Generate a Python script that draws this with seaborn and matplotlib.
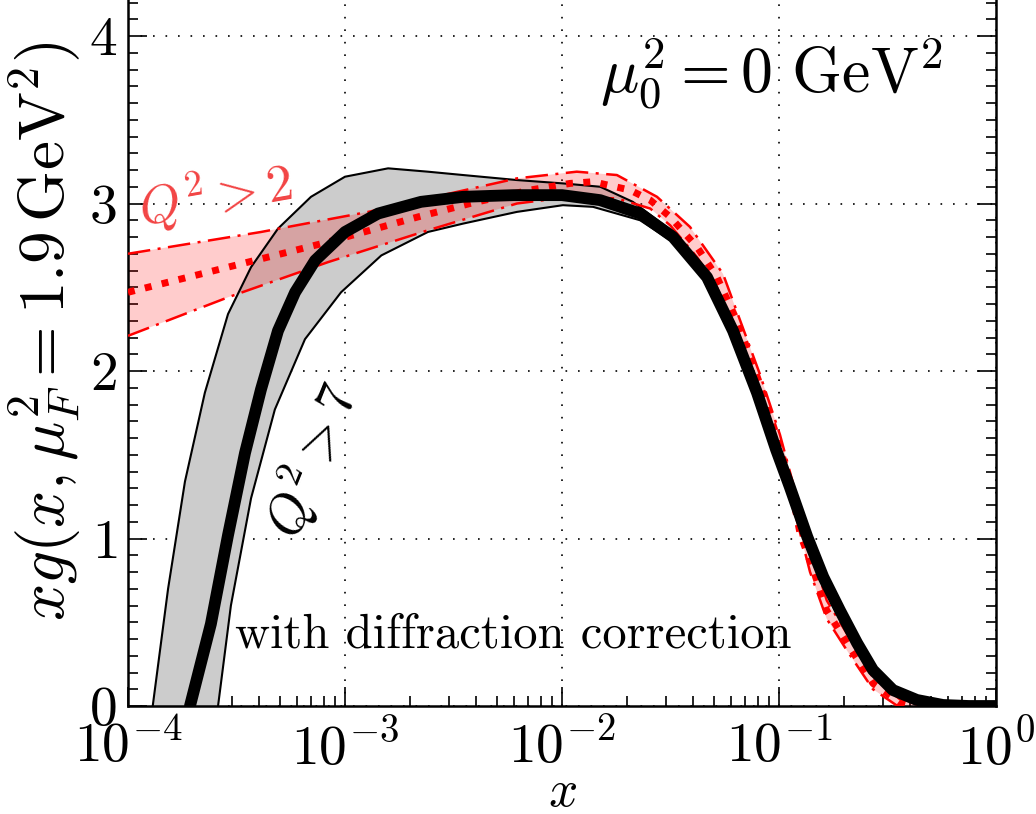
import numpy as np
import seaborn as sns
import matplotlib.pyplot as plt
from matplotlib.ticker import NullFormatter, LogLocator, MultipleLocator

# black band (Q^2 > 7): central value and edges
blk_x = [1.93e-4, 2.41e-4, 2.89e-4, 3.46e-4, 4.10e-4, 4.91e-4, 5.89e-4, 7.28e-4, 1.0e-3, 1.42e-3,
         2.24e-3, 3.5e-3, 6.0e-3, 1.0e-2, 1.5e-2, 2.29e-2, 3.25e-2, 4.66e-2, 6.14e-2, 7.92e-2,
         0.097, 0.112, 0.135, 0.160, 0.191, 0.229, 0.271, 0.335, 0.432, 0.570, 0.75, 1.0]
blk_y = [0.0, 0.49, 1.02, 1.51, 1.89, 2.24, 2.47, 2.66, 2.83, 2.94,
         3.01, 3.04, 3.05, 3.05, 3.02, 2.94, 2.80, 2.56, 2.24, 1.87,
         1.53, 1.31, 1.01, 0.77, 0.57, 0.376, 0.215, 0.095, 0.036, 0.006, 0.0, 0.0]
blk_up_x = [1.30e-4, 1.53e-4, 1.83e-4, 2.26e-4, 2.89e-4, 3.69e-4, 4.91e-4, 6.97e-4, 1.0e-3, 1.58e-3,
            2.41e-3, 3.5e-3, 6.2e-3, 1.01e-2, 1.5e-2, 2.12e-2, 3.25e-2, 4.66e-2, 6.14e-2, 7.92e-2,
            0.097, 0.112, 0.135, 0.160, 0.191, 0.229, 0.271, 0.335, 0.432, 0.570, 0.75, 1.0]
blk_up_y = [0.0, 0.70, 1.34, 1.87, 2.34, 2.62, 2.85, 3.04, 3.16, 3.21,
            3.19, 3.17, 3.14, 3.12, 3.10, 3.01, 2.83, 2.59, 2.27, 1.90,
            1.56, 1.34, 1.04, 0.80, 0.60, 0.40, 0.23, 0.105, 0.04, 0.008, 0.0, 0.0]
blk_lo_x = [2.60e-4, 2.98e-4, 3.69e-4, 4.75e-4, 6.54e-4, 9.59e-4, 1.47e-3, 2.41e-3, 3.5e-3, 6.2e-3,
            1.01e-2, 1.39e-2, 2.29e-2, 3.25e-2, 4.66e-2, 6.14e-2, 7.92e-2, 0.097, 0.112, 0.135,
            0.160, 0.191, 0.229, 0.271, 0.335, 0.432, 0.570, 0.75, 1.0]
blk_lo_y = [0.0, 0.60, 1.24, 1.77, 2.19, 2.47, 2.69, 2.83, 2.88, 2.95,
            2.99, 2.98, 2.90, 2.77, 2.53, 2.21, 1.84, 1.50, 1.28, 0.98,
            0.74, 0.54, 0.355, 0.20, 0.085, 0.03, 0.004, 0.0, 0.0]

# red band (Q^2 > 2): central value and edges
red_x = [1.0e-4, 2.89e-4, 8.35e-4, 2.17e-3, 3.77e-3, 7.1e-3, 1.09e-2, 1.39e-2, 2.06e-2, 2.55e-2,
         3.15e-2, 4.19e-2, 5.18e-2, 6.5e-2, 8.17e-2, 0.101, 0.116, 0.125, 0.145, 0.166,
         0.206, 0.271, 0.361, 0.461, 0.634, 1.0]
red_y = [2.47, 2.62, 2.77, 2.92, 3.0, 3.08, 3.12, 3.13, 3.08, 3.02,
         2.92, 2.74, 2.56, 2.28, 1.92, 1.55, 1.25, 1.03, 0.80, 0.57,
         0.376, 0.135, 0.02, -0.02, -0.04, -0.02]
red_up_x = [1.0e-4, 4.10e-4, 1.28e-3, 6.2e-3, 1.17e-2, 1.79e-2, 2.74e-2, 3.89e-2, 5.52e-2, 8.17e-2,
            0.101, 0.116, 0.139, 0.166, 0.206, 0.271, 0.361, 0.461, 1.0]
red_up_y = [2.70, 2.83, 2.95, 3.15, 3.19, 3.17, 3.04, 2.86, 2.58, 1.98,
            1.62, 1.33, 0.95, 0.63, 0.43, 0.17, 0.04, 0.0, 0.0]
red_lo_x = [1.0e-4, 2.89e-4, 8.35e-4, 2.41e-3, 6.2e-3, 1.09e-2, 1.79e-2, 2.55e-2, 3.15e-2, 4.19e-2,
            5.18e-2, 8.17e-2, 0.101, 0.116, 0.139, 0.166, 0.206, 0.271, 0.361, 0.461, 0.634, 1.0]
red_lo_y = [2.21, 2.44, 2.65, 2.84, 3.0, 3.04, 3.03, 2.97, 2.87, 2.68,
            2.50, 1.86, 1.50, 1.20, 0.80, 0.52, 0.33, 0.10, -0.01, -0.04, -0.05, -0.03]

sns.set_style('ticks')
plt.rcParams['mathtext.fontset'] = 'cm'
plt.rcParams['font.family'] = ['cmr10', 'DejaVu Serif']
plt.rcParams['axes.unicode_minus'] = False
for key in ['text.color', 'axes.labelcolor', 'xtick.color', 'ytick.color']:
    plt.rcParams[key] = 'black'

fig = plt.figure(figsize=(10.36, 8.14), dpi=100)
ax = fig.add_axes([128 / 1036, 1 - 706 / 814, 868 / 1036, 706 / 814])

# bands
ax.fill(blk_up_x + blk_lo_x[::-1], blk_up_y + blk_lo_y[::-1], color='#cccccc', lw=0, zorder=1)
ax.fill(red_up_x + red_lo_x[::-1], red_up_y + red_lo_y[::-1], color='red', alpha=0.2, lw=0, zorder=2)

sns.lineplot(x=blk_up_x, y=blk_up_y, ax=ax, color='black', lw=1.5, sort=False, zorder=3)
sns.lineplot(x=blk_lo_x, y=blk_lo_y, ax=ax, color='black', lw=1.5, sort=False, zorder=3)
sns.lineplot(x=red_up_x, y=red_up_y, ax=ax, color='red', lw=1.8, sort=False, zorder=4,
             linestyle=(0, (9, 3, 1.2, 3)))
sns.lineplot(x=red_lo_x, y=red_lo_y, ax=ax, color='red', lw=1.8, sort=False, zorder=4,
             linestyle=(0, (9, 3, 1.2, 3)))
sns.lineplot(x=red_x, y=red_y, ax=ax, color='red', lw=5, sort=False, zorder=5,
             linestyle=(0, (1, 1.5)), dash_capstyle='butt')
sns.lineplot(x=blk_x, y=blk_y, ax=ax, color='black', lw=8.5, sort=False, zorder=6,
             solid_joinstyle='round')

ax.set_xscale('log')
ax.set_xlim(1e-4, 1)
ax.set_ylim(0, 4.215)

ax.set_xticks([1e-4, 1e-3, 1e-2, 1e-1, 1])
ax.set_xticklabels([r'$10^{-4}$', r'$10^{-3}$', r'$10^{-2}$', r'$10^{-1}$', r'$10^{0}$'])
ax.xaxis.set_minor_locator(LogLocator(base=10, subs=np.arange(2, 10)))
ax.xaxis.set_minor_formatter(NullFormatter())
ax.set_yticks([0, 1, 2, 3, 4])
ax.set_yticklabels([r'$0$', r'$1$', r'$2$', r'$3$', r'$4$'])
ax.yaxis.set_minor_locator(MultipleLocator(0.1))

ax.tick_params(which='both', direction='in', right=True, top=False, width=1.2, labelsize=40)
ax.tick_params(which='major', length=14)
ax.tick_params(which='minor', length=7)
ax.tick_params(axis='x', which='major', pad=10)
ax.tick_params(axis='y', which='major', pad=8)

for side in ['left', 'right', 'bottom']:
    ax.spines[side].set_linewidth(1.8)
    ax.spines[side].set_color('black')
ax.spines['top'].set_visible(False)

ax.grid(True, which='major', color='black', lw=1.2, linestyle=(0, (1, 6.5)))

ax.set_xlabel(r'$x$', fontsize=37, va='baseline')
ax.xaxis.set_label_coords(0.5, -0.141)
ax.set_ylabel(r'$xg(x,\mu_F^2=1.9\,\mathrm{GeV}^2)$', fontsize=47)
ax.yaxis.set_label_coords(-0.052, 0.531)

ax.text(0.544, 0.894, r'$\mu_0^2=0\ \mathrm{GeV}^2$', transform=ax.transAxes,
        fontsize=46, ha='left', va='center')
ax.text(0.123, 0.10, 'with diffraction correction', transform=ax.transAxes,
        fontsize=35, ha='left', va='center')
ax.text(0.10, 0.724, r'$Q^2>2$', transform=ax.transAxes, color='#f24444',
        fontsize=38, ha='center', va='center', rotation=10)
ax.text(0.212, 0.348, r'$Q^2>7$', transform=ax.transAxes, color='black',
        fontsize=39, ha='center', va='center', rotation=68)

fig.savefig('out.png', dpi=100)
